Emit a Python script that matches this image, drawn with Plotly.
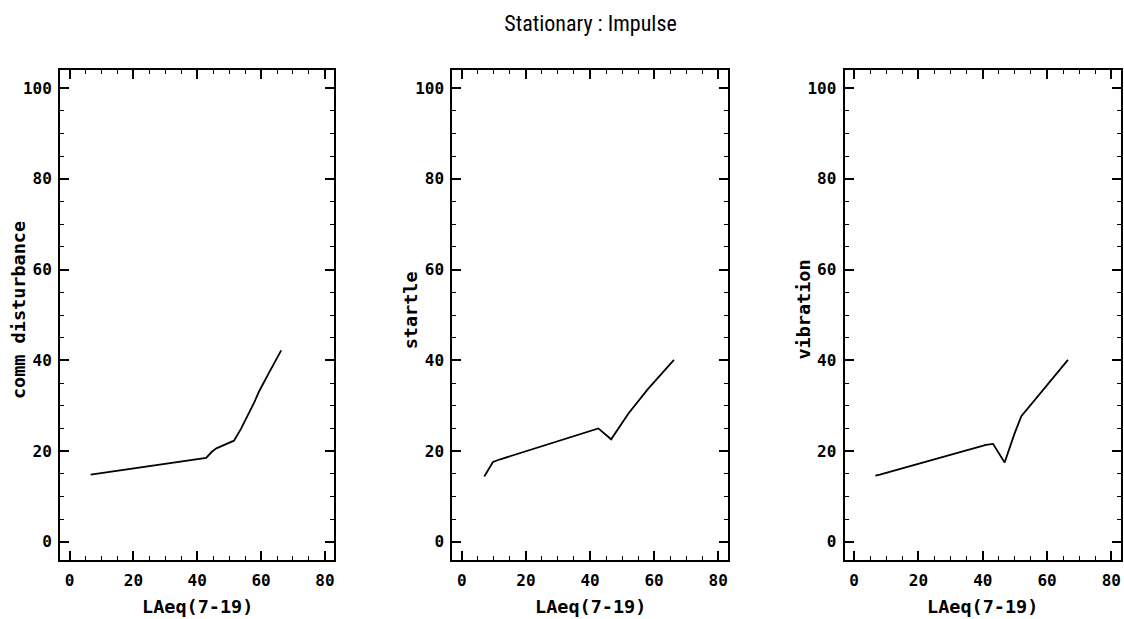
import plotly.graph_objects as go

# ---- data ----
x_comm = [6.6, 42.8, 44.5, 46.0, 51.5, 53.7, 57.9, 59.4, 62.5, 66.3]
y_comm = [14.8, 18.5, 19.8, 20.6, 22.3, 24.9, 30.8, 33.2, 37.3, 42.2]

x_startle = [7.0, 9.7, 12.0, 42.6, 46.6, 52.0, 58.0, 66.2]
y_startle = [14.4, 17.6, 18.2, 25.0, 22.6, 28.3, 33.6, 40.1]

x_vibration = [6.6, 8.0, 41.0, 43.2, 46.8, 49.9, 52.0, 58.7, 66.5]
y_vibration = [14.6, 14.8, 21.4, 21.6, 17.5, 23.9, 27.7, 33.4, 40.1]

y_titles = ["comm disturbance", "startle", "vibration"]
x_title = "LAeq(7-19)"
title_text = "Stationary : Impulse"
x_ticks = [0, 20, 40, 60, 80]
y_ticks = [0, 20, 40, 60, 80, 100]

series = [(x_comm, y_comm), (x_startle, y_startle), (x_vibration, y_vibration)]

# ---- layout geometry ----
W, H = 1124, 619
ML, MR, MT, MB = 60, 1, 70, 59
PW = W - ML - MR
PH = H - MT - MB
panel_px = [(60, 335), (453, 729), (846, 1123)]
domains = [[(a - ML) / PW, min(1.0, (b - ML) / PW)] for a, b in panel_px]

tick_font = dict(family="DejaVu Sans Mono, Liberation Mono, monospace", size=16, color="black", weight="bold")
title_font = dict(family="DejaVu Sans Mono, Liberation Mono, monospace", size=18.5, color="black", weight="bold")

fig = go.Figure()
for i, (xs, ys) in enumerate(series):
    suf = "" if i == 0 else str(i + 1)
    fig.add_trace(go.Scatter(x=xs, y=ys, mode="lines",
                             line=dict(color="black", width=1.8),
                             xaxis="x" + suf, yaxis="y" + suf,
                             showlegend=False, hoverinfo="skip"))

common = dict(showline=True, linecolor="black", linewidth=2, mirror="allticks",
              ticks="inside", ticklen=9, tickwidth=1.5, tickcolor="black",
              showgrid=False, zeroline=False, tickfont=tick_font, fixedrange=True)

layout = dict(width=W, height=H, margin=dict(l=ML, r=MR, t=MT, b=MB),
              paper_bgcolor="white", plot_bgcolor="white", showlegend=False,
              title=dict(text=title_text, x=0.5, xref="paper", y=1 - 23 / H, yanchor="middle",
                         font=dict(family="Liberation Sans Narrow, Roboto Condensed, Liberation Sans, Arial",
                                   size=22, color="black")))

annotations = []
for i in range(3):
    suf = "" if i == 0 else str(i + 1)
    layout["xaxis" + suf] = dict(common, domain=domains[i], anchor="y" + suf, range=[-3, 83],
                                 tickmode="array", tickvals=x_ticks, ticklabelstandoff=5,
                                 minor=dict(ticks="inside", ticklen=4, tickwidth=1, tickcolor="black",
                                            tick0=0, dtick=5, showgrid=False))
    layout["yaxis" + suf] = dict(common, domain=[0, 1], anchor="x" + suf, range=[-4, 104],
                                 tickmode="array", tickvals=y_ticks, ticklabelstandoff=3,
                                 minor=dict(ticks="inside", ticklen=4, tickwidth=1, tickcolor="black",
                                            tick0=0, dtick=5, showgrid=False))
    left_px = panel_px[i][0]
    annotations.append(dict(text=y_titles[i], xref="paper", yref="paper",
                            x=(left_px - 42 - ML) / PW, y=(H - MB - 310) / PH,
                            xanchor="center", yanchor="middle",
                            textangle=-90, showarrow=False, font=title_font))
    annotations.append(dict(text=x_title, xref="paper", yref="paper",
                            x=(sum(domains[i]) / 2), y=-(606 - (H - MB)) / PH,
                            xanchor="center", yanchor="middle", showarrow=False, font=title_font))
layout["annotations"] = annotations

fig.update_layout(**layout)
fig.write_html("out.html")
